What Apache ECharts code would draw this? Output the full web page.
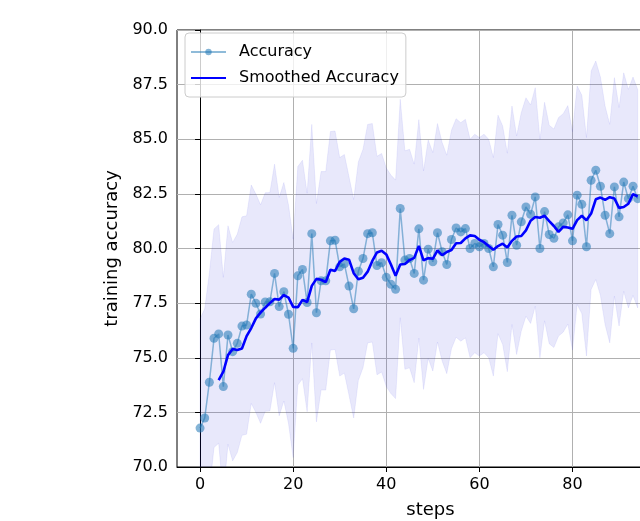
<!DOCTYPE html>
<html>
<head>
<meta charset="utf-8">
<script src="https://cdn.jsdelivr.net/npm/echarts@6/dist/echarts.min.js"></script>
<style>
html,body{margin:0;padding:0;background:#fff;}
#chart{width:640px;height:521px;}
</style>
</head>
<body>
<div id="chart"></div>
<script>
const steps = [0,1,2,3,4,5,6,7,8,9,10,11,12,13,14,15,16,17,18,19,20,21,22,23,24,25,26,27,28,29,30,31,32,33,34,35,36,37,38,39,40,41,42,43,44,45,46,47,48,49,50,51,52,53,54,55,56,57,58,59,60,61,62,63,64,65,66,67,68,69,70,71,72,73,74,75,76,77,78,79,80,81,82,83,84,85,86,87,88,89,90,91,92,93,94];
const accuracy = [71.78,72.24,73.88,75.89,76.09,73.68,76.04,75.28,75.66,76.45,76.50,77.91,77.49,77.00,77.55,77.56,78.86,77.34,78.02,76.99,75.43,78.75,79.04,77.53,80.68,77.06,78.52,78.52,80.35,80.38,79.16,79.30,78.28,77.24,78.96,79.54,80.68,80.72,79.22,79.35,78.68,78.36,78.13,81.83,79.47,79.54,78.86,80.90,78.55,79.97,79.39,80.72,79.85,79.27,80.41,80.94,80.76,80.91,80.00,80.23,80.08,80.23,80.00,79.16,81.10,80.61,79.36,81.52,80.15,81.22,81.90,81.57,82.36,80.00,81.69,80.64,80.47,80.99,81.17,81.54,80.35,82.44,82.02,80.08,83.12,83.58,82.85,81.52,80.68,82.82,81.45,83.04,82.28,82.85,82.28];
const smoothedSteps = [4,5,6,7,8,9,10,11,12,13,14,15,16,17,18,19,20,21,22,23,24,25,26,27,28,29,30,31,32,33,34,35,36,37,38,39,40,41,42,43,44,45,46,47,48,49,50,51,52,53,54,55,56,57,58,59,60,61,62,63,64,65,66,67,68,69,70,71,72,73,74,75,76,77,78,79,80,81,82,83,84,85,86,87,88,89,90,91,92,93,94];
const smoothed = [73.98,74.36,75.12,75.40,75.35,75.42,75.99,76.36,76.80,77.07,77.29,77.50,77.69,77.66,77.87,77.75,77.33,77.31,77.65,77.55,78.29,78.61,78.57,78.46,79.03,78.97,79.39,79.54,79.49,78.87,78.59,78.66,78.94,79.43,79.82,79.90,79.73,79.27,78.75,79.27,79.29,79.47,79.57,80.12,79.46,79.56,79.53,79.91,79.70,79.84,79.93,80.24,80.25,80.46,80.60,80.57,80.40,80.29,80.11,79.94,80.11,80.22,80.05,80.35,80.55,80.57,80.83,81.27,81.44,81.41,81.50,81.25,81.03,80.76,80.99,80.96,80.90,81.30,81.50,81.29,81.60,82.25,82.33,82.23,82.35,82.29,81.86,81.90,82.05,82.49,82.38];
const bandUpper = [76.78,77.24,78.88,80.89,81.09,78.68,81.04,80.28,80.66,81.45,81.50,82.91,82.49,82.00,82.55,82.56,83.86,82.34,83.02,81.99,80.43,83.75,84.04,82.53,85.68,82.06,83.52,83.52,85.35,85.38,84.16,84.30,83.28,82.24,83.96,84.54,85.68,85.72,84.22,84.35,83.68,83.36,83.13,86.83,84.47,84.54,83.86,85.90,83.55,84.97,84.39,85.72,84.85,84.27,85.41,85.94,85.76,85.91,85.00,85.23,85.08,85.23,85.00,84.16,86.10,85.61,84.36,86.52,85.15,86.22,86.90,86.57,87.36,85.00,86.69,85.64,85.47,85.99,86.17,86.54,85.35,87.44,87.02,85.08,88.12,88.58,87.85,86.52,85.68,87.82,86.45,88.04,87.28,87.85,87.28];
const bandLower = [66.78,67.24,68.88,70.89,71.09,68.68,71.04,70.28,70.66,71.45,71.50,72.91,72.49,72.00,72.55,72.56,73.86,72.34,73.02,71.99,70.43,73.75,74.04,72.53,75.68,72.06,73.52,73.52,75.35,75.38,74.16,74.30,73.28,72.24,73.96,74.54,75.68,75.72,74.22,74.35,73.68,73.36,73.13,76.83,74.47,74.54,73.86,75.90,73.55,74.97,74.39,75.72,74.85,74.27,75.41,75.94,75.76,75.91,75.00,75.23,75.08,75.23,75.00,74.16,76.10,75.61,74.36,76.52,75.15,76.22,76.90,76.57,77.36,75.00,76.69,75.64,75.47,75.99,76.17,76.54,75.35,77.44,77.02,75.08,78.12,78.58,77.85,76.52,75.68,77.82,76.45,78.04,77.28,77.85,77.28];
const xTicks = [0,20,40,60,80,100];

const FONT = 'DejaVu Sans';
const chart = echarts.init(document.getElementById('chart'), null, {renderer:'canvas'});

const bandData = steps.map((s,i)=>[s, bandLower[i], bandUpper[i]]);
const accData = steps.map((s,i)=>[s, accuracy[i]]);
const smData = smoothedSteps.map((s,i)=>[s, smoothed[i]]);

function renderBand(params, api){
  if (params.dataIndex !== 0) return null;
  const up = bandData.map(d=>api.coord([d[0], d[2]]));
  const lo = bandData.map(d=>api.coord([d[0], d[1]])).reverse();
  return {
    type:'polygon',
    shape:{points: up.concat(lo)},
    style:{fill:'rgba(30,30,220,0.1)', stroke:'rgba(30,30,220,0.07)', lineWidth:1}
  };
}

chart.setOption({
  animation:false,
  backgroundColor:'#fff',
  textStyle:{fontFamily:FONT},
  grid:{left:177, top:30, right:-44, bottom:54, outerBoundsMode:'none', containLabel:false,
        show:true, borderColor:'#000', borderWidth:1, backgroundColor:'transparent'},
  legend:{
    data:[
      {name:'Accuracy'},
      {name:'Smoothed Accuracy', itemStyle:{opacity:0}}
    ],
    orient:'vertical', left:185, top:33,
    padding:[10,7,10,5], itemGap:8,
    itemWidth:35, itemHeight:8,
    backgroundColor:'rgba(255,255,255,0.8)', borderColor:'#cccccc', borderWidth:1, borderRadius:4,
    textStyle:{fontFamily:FONT, fontSize:16, color:'#000', padding:[0,0,0,8], lineHeight:18}
  },
  xAxis:{
    type:'value', min:-4.95, max:103.95,
    name:'steps', nameLocation:'middle', nameGap:34,
    nameTextStyle:{fontFamily:FONT, fontSize:18, color:'#000'},
    axisLine:{show:true, onZero:false, lineStyle:{color:'#000', width:1}},
    axisTick:{show:true, length:5, customValues:xTicks, lineStyle:{color:'#000'}},
    axisLabel:{customValues:xTicks, margin:10, fontFamily:FONT, fontSize:16, color:'#000'},
    splitLine:{show:true, lineStyle:{color:'#b0b0b0', width:1}}
  },
  yAxis:{
    type:'value', min:70, max:90, interval:2.5,
    name:'training accuracy', nameLocation:'middle', nameGap:48,
    nameTextStyle:{fontFamily:FONT, fontSize:18, color:'#000'},
    axisLine:{show:true, lineStyle:{color:'#000', width:1}},
    axisTick:{show:true, length:5, lineStyle:{color:'#000'}},
    axisLabel:{margin:9, fontFamily:FONT, fontSize:16, color:'#000', formatter:v=>v.toFixed(1)},
    splitLine:{show:true, lineStyle:{color:'#b0b0b0', width:1}}
  },
  series:[
    {name:'band', type:'custom', data:bandData, encode:{x:0, y:[1,2]},
     renderItem:renderBand, clip:true, silent:true, z:1},
    {name:'Accuracy', type:'line', data:accData, symbol:'circle', symbolSize:9, showSymbol:true,
     color:'#1f77b4',
     lineStyle:{color:'#1f77b4', width:1.5, opacity:0.5},
     itemStyle:{color:'#1f77b4', opacity:0.55}, z:2},
    {name:'Smoothed Accuracy', type:'line', data:smData, symbol:'none',
     color:'#0000ff',
     lineStyle:{color:'#0000ff', width:2.6}, z:3}
  ]
});
</script>
</body>
</html>
